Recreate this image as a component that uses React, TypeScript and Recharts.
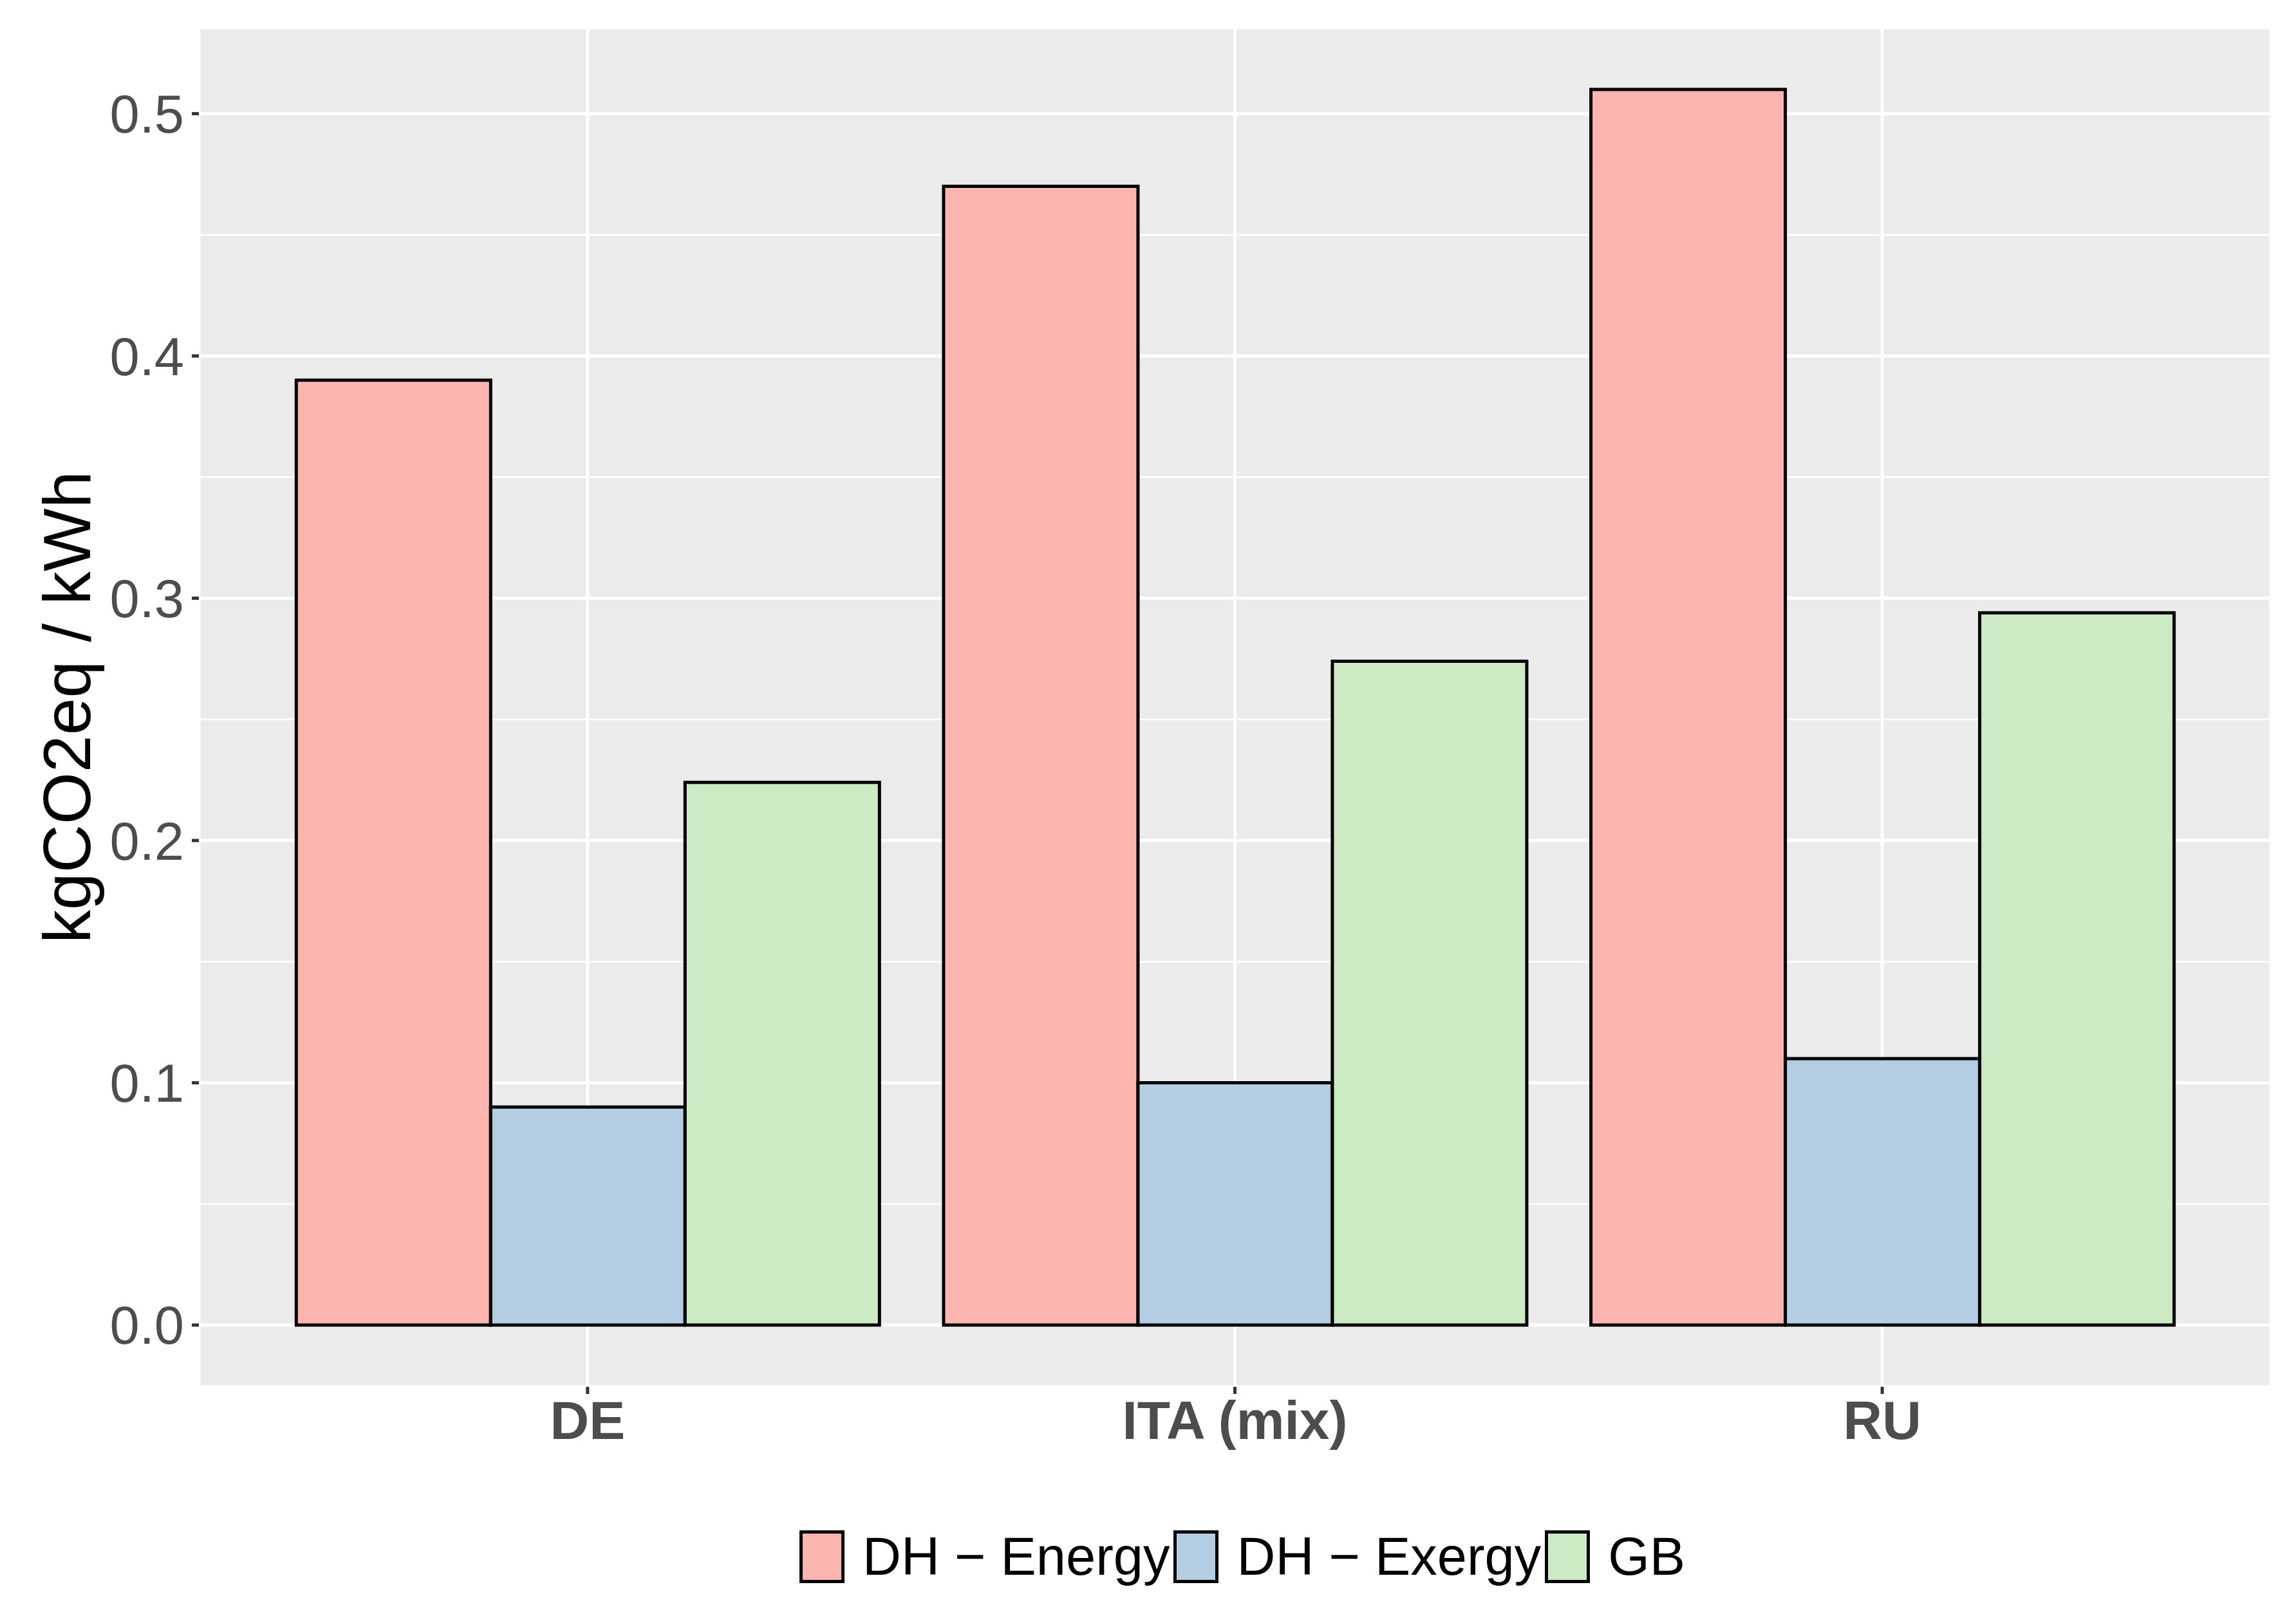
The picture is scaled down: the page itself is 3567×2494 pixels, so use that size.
import {
  BarChart,
  Bar,
  XAxis,
  YAxis,
  CartesianGrid,
  Legend,
  Label,
} from "recharts";

const CATEGORIES = ["DE", "ITA (mix)", "RU"];
const DH_ENERGY = [0.39, 0.47, 0.51];
const DH_EXERGY = [0.09, 0.1, 0.11];
const GB = [0.224, 0.274, 0.294];

const Y_TICKS = [0, 0.1, 0.2, 0.3, 0.4, 0.5];
const Y_MINOR = [0.05, 0.15, 0.25, 0.35, 0.45];

const SERIES = [
  { key: "energy", name: "DH \u2212 Energy", color: "#FBB4AE" },
  { key: "exergy", name: "DH \u2212 Exergy", color: "#B3CDE3" },
  { key: "gb", name: "GB", color: "#CCEBC5" },
];

const data = CATEGORIES.map((c, i) => ({
  cat: c,
  energy: DH_ENERGY[i],
  exergy: DH_EXERGY[i],
  gb: GB[i],
}));

const FONT = '"Liberation Sans", Arial, Helvetica, sans-serif';

function renderLegend() {
  return (
    <div style={{ display: "flex", alignItems: "center", fontFamily: FONT }}>
      {SERIES.map((s) => (
        <div key={s.key} style={{ display: "flex", alignItems: "center", marginRight: 6 }}>
          <div
            style={{
              width: 70,
              height: 82,
              boxSizing: "border-box",
              border: "5px solid #000",
              background: s.color,
              marginRight: 28,
            }}
          />
          <span style={{ fontSize: 83, color: "#000", lineHeight: 1.1, whiteSpace: "nowrap" }}>
            {s.name}
          </span>
        </div>
      ))}
    </div>
  );
}

function renderYTitle(props: any) {
  const vb = props.viewBox;
  const x = vb.x + 31;
  const y = vb.y + vb.height / 2;
  return (
    <text
      x={x}
      y={y}
      transform={`rotate(-90 ${x} ${y})`}
      textAnchor="middle"
      fontSize={104}
      fontFamily={FONT}
      fill="#000"
    >
      kgCO2eq / kWh
    </text>
  );
}

export default function App() {
  return (
    <div style={{ position: "absolute", left: 0, top: 0, width: 3567, height: 2494, background: "#fff" }}>
      <BarChart
        width={3567}
        height={2494}
        data={data}
        margin={{ top: 43, right: 39, left: 109, bottom: 139 }}
        barCategoryGap="5%"
        barGap={0}
        style={{ fontFamily: FONT }}
      >
        <CartesianGrid
          fill="#EBEBEB"
          stroke="#fff"
          strokeWidth={2.7}
          vertical={false}
          horizontalValues={Y_MINOR}
        />
        <CartesianGrid stroke="#fff" strokeWidth={5} />
        <XAxis
          dataKey="cat"
          type="category"
          height={200}
          padding={{ left: 101, right: 101 }}
          axisLine={false}
          tickSize={11}
          tickMargin={10}
          tickLine={{ stroke: "#333333", strokeWidth: 5 }}
          tick={{ fill: "#4D4D4D", fontSize: 84, fontWeight: "bold", fontFamily: FONT }}
        />
        <YAxis
          type="number"
          width={200}
          domain={[-0.0255, 0.5355]}
          allowDataOverflow
          ticks={Y_TICKS}
          tickFormatter={(v: number) => v.toFixed(1)}
          axisLine={false}
          tickSize={11}
          tickMargin={12}
          tickLine={{ stroke: "#333333", strokeWidth: 5 }}
          tick={{ fill: "#4D4D4D", fontSize: 83, fontFamily: FONT }}
        >
          <Label content={renderYTitle} />
        </YAxis>
        <Legend
          layout="horizontal"
          verticalAlign="middle"
          align="center"
          content={renderLegend}
          wrapperStyle={{ left: 1242, top: 2373, width: 1500, height: 82 }}
        />
        {SERIES.map((s) => (
          <Bar
            key={s.key}
            dataKey={s.key}
            name={s.name}
            fill={s.color}
            stroke="#000"
            strokeWidth={5}
            isAnimationActive={false}
          />
        ))}
      </BarChart>
    </div>
  );
}
